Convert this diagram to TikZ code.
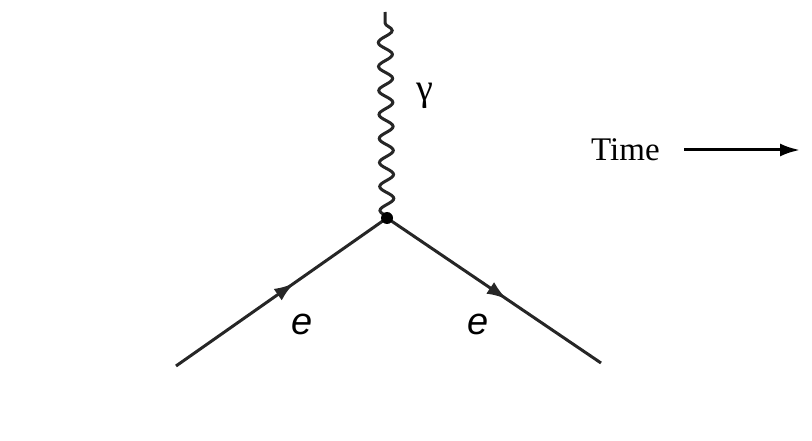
\documentclass[tikz,border=0pt]{standalone}
\usepackage{fontspec}
\setmainfont{Liberation Serif}
\newfontfamily\sansit{Liberation Sans}
\usetikzlibrary{decorations.pathmorphing,decorations.markings,arrows.meta}
\begin{document}
\begin{tikzpicture}[x=1pt,y=-1pt,
  fermion/.style={line width=3pt,draw=black!85,
    postaction={decorate},
    decoration={markings,mark=at position 0.56 with {\arrow{Latex[length=20pt,width=14pt]}}}},
  photon/.style={line width=3pt,draw=black!85,decorate,
    decoration={snake,segment length=24pt,amplitude=7pt}},
  lbl/.style={inner sep=0pt}]
\useasboundingbox (0,0) rectangle (812,441);
\coordinate (v) at (387,218);
\coordinate (a) at (176,366);
\coordinate (b) at (601,363);
\coordinate (t) at (385,12);
\draw[photon] (v) -- (t);
\draw[fermion] (a) -- (v);
\draw[fermion] (v) -- (b);
\fill[black] (v) circle (6pt);
\node[lbl,font=\fontsize{38}{38}\selectfont] (g) at (425,96) {γ};
\node[lbl,font=\sansit\itshape\fontsize{38}{38}\selectfont] (e1) at (302,324) {e};
\node[lbl,font=\sansit\itshape\fontsize{38}{38}\selectfont] (e2) at (478,324) {e};
\node[lbl,font=\fontsize{33}{33}\selectfont,anchor=west] (time) at (591,150) {Time};
\coordinate (tend) at (800,150);
\draw[line width=3pt,-{Latex[length=20pt,width=13pt]}] (684,150) -- (tend);
\end{tikzpicture}
\end{document}
